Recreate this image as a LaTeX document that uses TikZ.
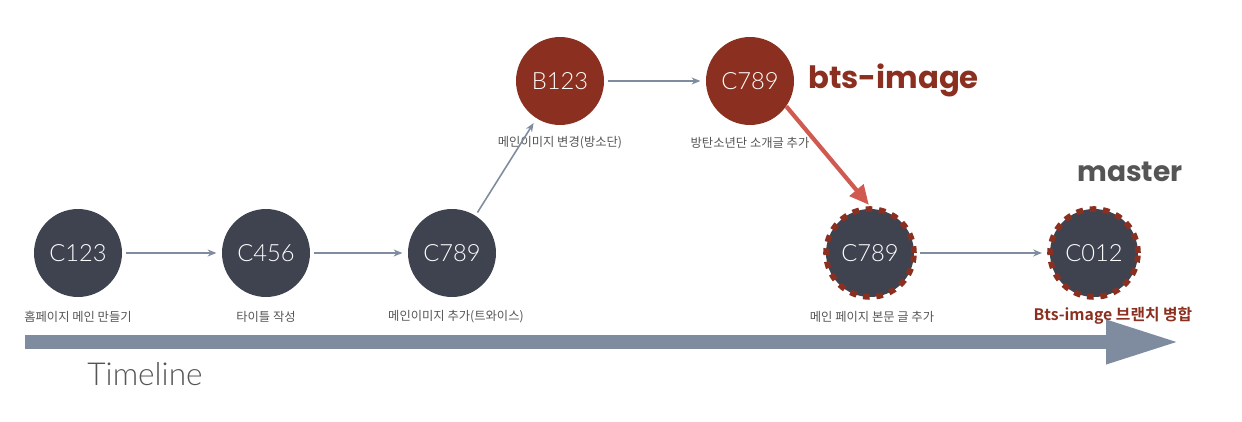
\documentclass[tikz,border=0pt]{standalone}
\usepackage{fontspec}
\setmainfont{Lato}
\newfontfamily\lightfont{Lato Light}
\newfontfamily\krfont{Noto Sans CJK KR}
\newfontfamily\krbold{Noto Sans CJK KR Bold}
\newfontfamily\headfont{Poppins Bold}
\usetikzlibrary{positioning,arrows.meta}
\definecolor{commitgray}{HTML}{3F4350}
\definecolor{branchred}{HTML}{8B3020}
\definecolor{linkblue}{HTML}{7F8CA0}
\definecolor{mergered}{HTML}{D05A50}
\definecolor{labelgray}{HTML}{555555}

\begin{document}
\begin{tikzpicture}[
    x=0.02cm,
    y=-0.02cm,
    commit/.style={
        circle,
        fill=commitgray,
        text=white,
        minimum size=1.76cm,
        inner sep=0pt,
        font=\lightfont\fontsize{13.5}{16}\selectfont
    },
    branch/.style={
        commit,
        fill=branchred
    },
    merged/.style={
        commit,
        draw=branchred,
        line width=3.2pt,
        dash pattern=on 3.8pt off 3.8pt
    },
    caption/.style={
        text=labelgray,
        font=\krfont\fontsize{7}{8}\selectfont
    },
    link/.style={
        draw=linkblue,
        line width=0.9pt,
        -{Stealth[length=5pt,width=4pt]},
        shorten <=2pt,
        shorten >=3pt
    }
]
\useasboundingbox (0,0) rectangle (1242,422);

% Commits on master
\node[commit] (c123) at (78,253)   {C123};
\node[commit] (c456) at (266,253)  {C456};
\node[commit] (c789) at (452,253)  {C789};
\node[merged] (m789) at (870,253)  {C789};
\node[merged] (c012) at (1094,253) {C012};

% Commits on bts-image
\node[branch] (b123) at (560,81) {B123};
\node[branch] (b789) at (750,81) {C789};

% Captions
\node[caption] (t123) at (78,317)  {홈페이지 메인 만들기};
\node[caption] (t456) at (266,317) {타이틀 작성};
\node[caption] (t789) at (456,317) {메인이미지 추가(트와이스)};
\node[caption] (tb123) at (560,143) {메인이미지 변경(방소단)};
\node[caption] (tb789) at (750,143) {방탄소년단 소개글 추가};
\node[caption] (tm789) at (872,317) {메인 페이지 본문 글 추가};
\node[text=branchred, font=\krbold\fontsize{9}{10}\selectfont] (tc012) at (1113,316) {Bts-image 브랜치 병합};

% Branch names
\node[text=branchred, font=\headfont\fontsize{17.5}{20}\selectfont, anchor=west] (lbts) at (802,80) {bts-image};
\node[text=labelgray, font=\headfont\fontsize{16}{18}\selectfont] (lmaster) at (1130,172) {master};

% History
\draw[link] (c123) -- (c456);
\draw[link] (c456) -- (c789);
\draw[link] (c789) -- (b123);
\draw[link] (b123) -- (b789);
\draw[link] (m789) -- (c012);

% Merge
\draw[draw=mergered, line width=2.4pt, -{Triangle[length=11pt,width=10pt]}, shorten >=1pt] (b789.-35) -- (m789.north);

% Timeline
\coordinate (tl0) at (25,342);
\coordinate (tl1) at (1180,342);
\draw[linkblue, line width=8pt, -{Triangle[length=42pt,width=23pt]}] (tl0) -- (tl1);
\node[text=labelgray, font=\lightfont\fontsize{18}{20}\selectfont] (ltime) at (145,374) {Timeline};
\end{tikzpicture}
\end{document}
